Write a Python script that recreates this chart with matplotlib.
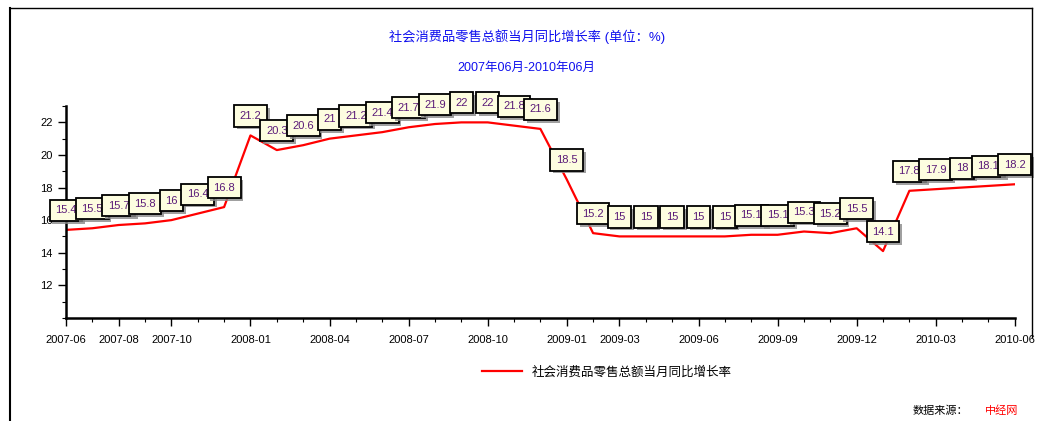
import numpy as np
import matplotlib
matplotlib.use('Agg')
import matplotlib.pyplot as plt
import matplotlib.patheffects as pe
from matplotlib.lines import Line2D

plt.rcParams['font.family'] = ['Liberation Sans', 'Noto Sans CJK SC', 'DejaVu Sans']

# 月份 2007-06 ~ 2010-06
months = ['2007-06', '2007-07', '2007-08', '2007-09', '2007-10', '2007-11', '2007-12',
          '2008-01', '2008-02', '2008-03', '2008-04', '2008-05', '2008-06', '2008-07',
          '2008-08', '2008-09', '2008-10', '2008-11', '2008-12',
          '2009-01', '2009-02', '2009-03', '2009-04', '2009-05', '2009-06', '2009-07',
          '2009-08', '2009-09', '2009-10', '2009-11', '2009-12',
          '2010-01', '2010-02', '2010-03', '2010-04', '2010-05', '2010-06']
growth = [15.4, 15.5, 15.7, 15.8, 16, 16.4, 16.8,
          21.2, 20.3, 20.6, 21, 21.2, 21.4, 21.7, 21.9, 22, 22, 21.8, 21.6,
          18.5, 15.2, 15, 15, 15, 15, 15, 15.1, 15.1, 15.3, 15.2, 15.5,
          14.1, 17.8, 17.9, 18, 18.1, 18.2]
tick_months = ['2007-06', '2007-08', '2007-10', '2008-01', '2008-04', '2008-07', '2008-10',
               '2009-01', '2009-03', '2009-06', '2009-09', '2009-12', '2010-03', '2010-06']

x = np.arange(len(months))

fig = plt.figure(figsize=(10.37, 4.21), dpi=100)
ax = fig.add_axes([0.0636, 0.245, 0.915, 0.503])

ax.plot(x, growth, color='red', lw=1.6, label='社会消费品零售总额当月同比增长率', zorder=2)

# 数据标签（带阴影的方框）
for xi, v in zip(x, growth):
    t = ax.annotate('%g' % v, (xi, v), xytext=(0, 14), textcoords='offset points',
                    ha='center', va='center', fontsize=8, color='#5a1a78', zorder=3,
                    bbox=dict(boxstyle='square,pad=0.5', fc='#fdfde0', ec='black', lw=1.3))
    t.get_bbox_patch().set_path_effects([
        pe.SimplePatchShadow(offset=(2, -2), shadow_rgbFace='#888888', alpha=0.8),
        pe.Normal()])

ax.set_xlim(0, len(months) - 1)
ax.set_ylim(10, 23)
ax.set_yticks([12, 14, 16, 18, 20, 22])
ax.set_yticks(np.arange(10, 23.1, 1), minor=True)
ax.set_xticks([months.index(m) for m in tick_months])
ax.set_xticklabels(tick_months)
ax.set_xticks(x, minor=True)

for s in ['top', 'right']:
    ax.spines[s].set_visible(False)
for s in ['left', 'bottom']:
    ax.spines[s].set_linewidth(1.8)
ax.tick_params(axis='both', which='major', labelsize=8, length=6, width=1, direction='out')
ax.tick_params(axis='both', which='minor', length=3, width=0.8, direction='out')
ax.tick_params(axis='x', pad=6)

fig.text(0.508, 0.912, '社会消费品零售总额当月同比增长率 (单位：%)', ha='center', va='center',
         fontsize=9.5, color='#1010ee')
fig.text(0.508, 0.838, '2007年06月-2010年06月', ha='center', va='center',
         fontsize=9, color='#1010ee')

leg = fig.legend(loc='center', bbox_to_anchor=(0.585, 0.115), frameon=False, fontsize=9,
                 handlelength=3.2)

fig.text(0.880, 0.025, '数据来源：', ha='left', va='center', fontsize=8, color='black')
fig.text(0.950, 0.025, '中经网', ha='left', va='center', fontsize=8, color='red')

# 外框
fig.add_artist(Line2D([0.010, 0.010], [0.0, 0.982], transform=fig.transFigure, color='black', lw=1.5))
fig.add_artist(Line2D([0.010, 0.995], [0.982, 0.982], transform=fig.transFigure, color='black', lw=1.0))
fig.add_artist(Line2D([0.995, 0.995], [0.2, 0.982], transform=fig.transFigure, color='black', lw=1.0))

fig.savefig('out.png', dpi=100)
